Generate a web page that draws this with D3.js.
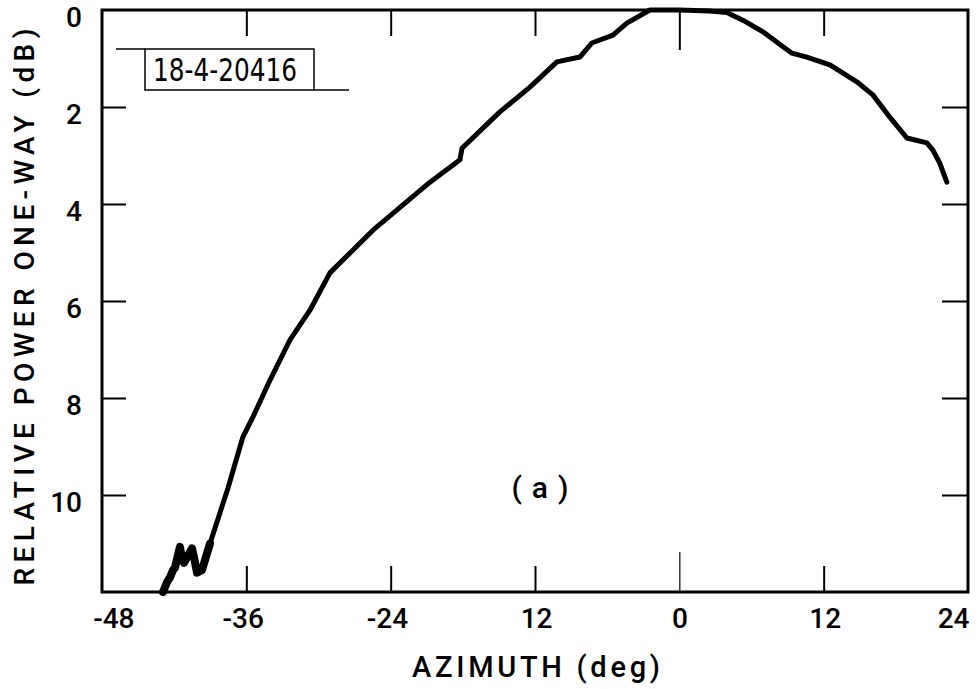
<!DOCTYPE html>
<html>
<head>
<meta charset="utf-8">
<script src="https://cdn.jsdelivr.net/npm/d3@7"></script>
<style>
body { margin: 0; background: #fff; }
text { font-family: Roboto, "DejaVu Sans", sans-serif; font-weight: 500; fill: #000; }
</style>
</head>
<body>
<script>
// azimuth (deg) and relative one-way power (dB)
var azimuth = [-42.93, -42.6, -42.35, -42.1, -41.93, -41.7, -41.52, -41.35, -41.18, -40.85,
	-40.52, -40.3, -40.1, -39.69, -39.02, -37.53, -36.28, -35.45, -34.03, -32.37,
	-30.71, -29.05, -27.38, -25.47, -20.73, -18.24, -18.07, -14.92, -12.42, -10.18,
	-8.27, -7.27, -5.52, -4.36, -2.45, 0, 2.5, 3.95, 5.28, 6.95,
	9.36, 10.6, 12.52, 14.76, 16.09, 17.5, 18.92, 20.58, 21.08, 21.66, 22.24];
var power = [12.0, 11.8, 11.7, 11.55, 11.5, 11.25, 11.07, 11.3, 11.4, 11.25,
	11.1, 11.35, 11.6, 11.55, 11.0, 9.86, 8.8, 8.39, 7.63, 6.8,
	6.19, 5.42, 5.01, 4.54, 3.55, 3.09, 2.85, 2.10, 1.59, 1.07,
	0.97, 0.68, 0.52, 0.27, 0.0, 0.0, 0.02, 0.05, 0.21, 0.45,
	0.89, 0.97, 1.13, 1.48, 1.75, 2.21, 2.64, 2.74, 2.89, 3.16, 3.55];
var noisyCount = 15; // first points are the ragged low end

var xTicks = [-48, -36, -24, -12, 0, 12, 24];
var xTickLabels = ["-48", "-36", "-24", "12", "0", "12", "24"];
var yTicks = [0, 2, 4, 6, 8, 10];
var yTickLabels = ["0", "2", "4", "6", "8", "10"];

var W = 979, H = 689;
var pL = 102, pR = 968, pT = 10, pB = 592;

var svg = d3.select("body").append("svg")
	.attr("width", W)
	.attr("height", H);

var x = d3.scaleLinear().domain([-48, 24]).range([pL, pR]);
var y = d3.scaleLinear().domain([0, 12]).range([pT, pB]);

var pts = azimuth.map(function(a, i){ return [a, power[i]]; });

// bottom axis with labels, ticks pointing inwards
var bx = svg.append("g")
	.attr("transform", "translate(0," + pB + ")")
	.call(d3.axisBottom(x)
		.tickValues(xTicks)
		.tickSizeInner(-26)
		.tickSizeOuter(0)
		.tickPadding(16)
		.tickFormat(function(d, i){ return xTickLabels[i]; }));
// digits sit on the tick, the minus hangs to the left; end labels pulled inside
var last = xTicks.length - 1;
bx.selectAll("text")
	.attr("font-size", 28)
	.attr("text-anchor", function(d, i){ return xTickLabels[i].length > 1 ? "end" : "middle"; })
	.attr("dx", function(d, i){
		if (xTickLabels[i].length == 1) return 0;
		if (i == 0) return 32;
		if (i == last) return 1;
		return 17;
	});

// top axis, ticks only
var tx = svg.append("g")
	.attr("transform", "translate(0," + pT + ")")
	.call(d3.axisTop(x)
		.tickValues(xTicks)
		.tickSizeInner(-26)
		.tickSizeOuter(0)
		.tickFormat(""));

// left axis with labels
var ly = svg.append("g")
	.attr("transform", "translate(" + pL + ",0)")
	.call(d3.axisLeft(y)
		.tickValues(yTicks)
		.tickSizeInner(-24)
		.tickSizeOuter(0)
		.tickPadding(20)
		.tickFormat(function(d, i){ return yTickLabels[i]; }));
ly.selectAll("text")
	.attr("font-size", 28)
	.attr("dy", "0.6em");

// right axis, ticks only
var ry = svg.append("g")
	.attr("transform", "translate(" + pR + ",0)")
	.call(d3.axisRight(y)
		.tickValues(yTicks)
		.tickSizeInner(-26)
		.tickSizeOuter(0)
		.tickFormat(""));

svg.selectAll(".domain").remove();
svg.selectAll(".tick line").attr("stroke", "#000").attr("stroke-width", 2);
// no ticks at the corners, the 0 deg tick is longer and thinner
bx.selectAll(".tick").filter(function(d){ return d == -48 || d == 24; }).select("line").remove();
tx.selectAll(".tick").filter(function(d){ return d == -48 || d == 24; }).select("line").remove();
ly.selectAll(".tick").filter(function(d){ return d == 0; }).select("line").remove();
ry.selectAll(".tick").filter(function(d){ return d == 0; }).select("line").remove();
bx.selectAll(".tick").filter(function(d){ return d == 0; }).select("line").attr("y2", -40).attr("stroke-width", 1.2);
tx.selectAll(".tick").filter(function(d){ return d == 0; }).select("line").attr("y2", 40).attr("stroke-width", 2);

// frame
svg.append("rect")
	.attr("x", pL)
	.attr("y", pT)
	.attr("width", pR - pL)
	.attr("height", pB - pT)
	.attr("fill", "none")
	.attr("stroke", "#000")
	.attr("stroke-width", 3);

// curve
var line = d3.line()
	.x(function(d){ return x(d[0]); })
	.y(function(d){ return y(d[1]); });

svg.append("path")
	.datum(pts)
	.attr("d", line)
	.attr("fill", "none")
	.attr("stroke", "#000")
	.attr("stroke-width", 5)
	.attr("stroke-linejoin", "round")
	.attr("stroke-linecap", "round");

svg.append("path")
	.datum(pts.slice(0, noisyCount))
	.attr("d", line)
	.attr("fill", "none")
	.attr("stroke", "#000")
	.attr("stroke-width", 8)
	.attr("stroke-linejoin", "round")
	.attr("stroke-linecap", "round");

// figure id box
var bxL = 145, bxR = 314, bxT = 49, bxB = 90;
svg.append("rect")
	.attr("x", bxL).attr("y", bxT)
	.attr("width", bxR - bxL).attr("height", bxB - bxT)
	.attr("fill", "none").attr("stroke", "#000").attr("stroke-width", 1.5);
svg.append("line")
	.attr("x1", 116).attr("x2", bxL).attr("y1", bxT).attr("y2", bxT)
	.attr("stroke", "#000").attr("stroke-width", 1.5);
svg.append("line")
	.attr("x1", bxR).attr("x2", 349).attr("y1", bxB).attr("y2", bxB)
	.attr("stroke", "#000").attr("stroke-width", 1.5);
svg.append("text")
	.attr("x", 153).attr("y", 81)
	.attr("font-size", 32)
	.attr("textLength", 144)
	.attr("lengthAdjust", "spacingAndGlyphs")
	.style("font-family", "'Liberation Sans Narrow', 'DejaVu Sans Condensed', sans-serif")
	.style("font-weight", "normal")
	.text("18-4-20416");

// panel letter
svg.append("text")
	.attr("x", 540).attr("y", 498)
	.attr("text-anchor", "middle")
	.attr("font-size", 30)
	.attr("textLength", 57)
	.attr("lengthAdjust", "spacing")
	.text("(a)");

// axis titles
svg.append("text")
	.attr("x", 536).attr("y", 677)
	.attr("text-anchor", "middle")
	.attr("font-size", 29)
	.attr("textLength", 248)
	.attr("lengthAdjust", "spacing")
	.text("AZIMUTH (deg)");

svg.append("text")
	.attr("transform", "translate(34,307) rotate(-90)")
	.attr("text-anchor", "middle")
	.attr("font-size", 28)
	.attr("textLength", 557)
	.attr("lengthAdjust", "spacing")
	.text("RELATIVE POWER ONE-WAY (dB)");
</script>
</body>
</html>
